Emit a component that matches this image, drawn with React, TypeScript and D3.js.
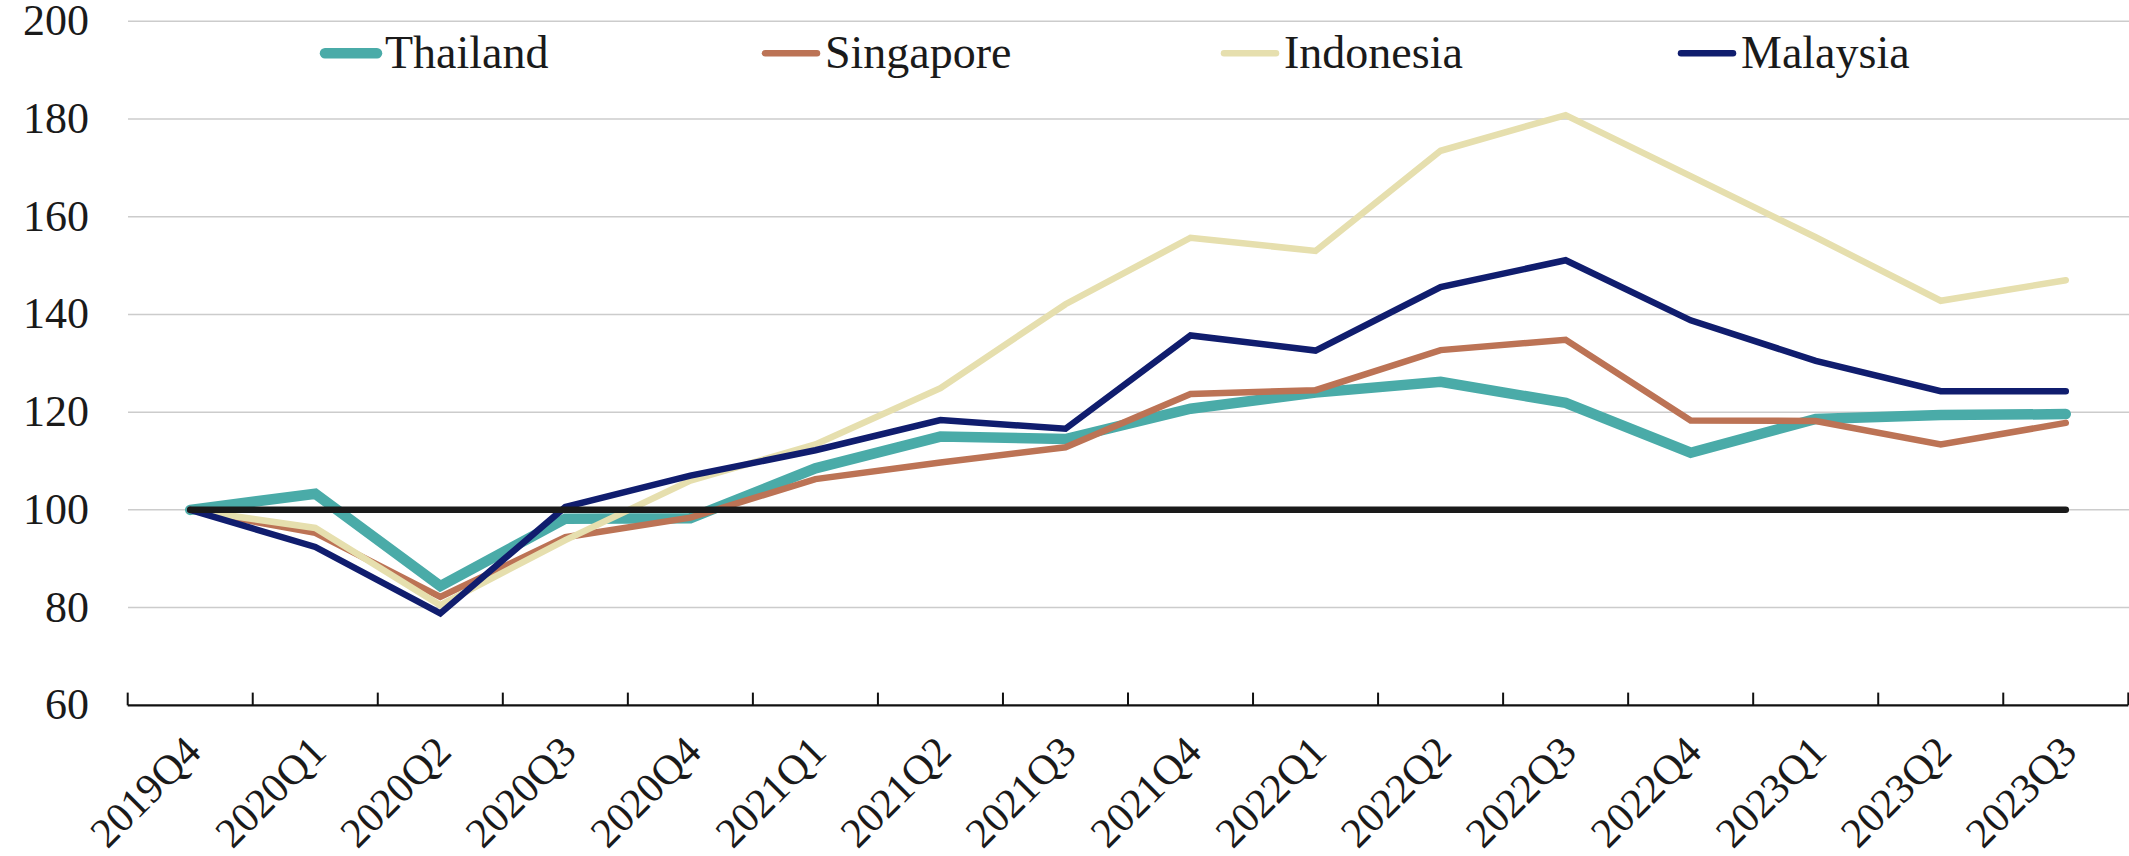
import React from "react";
import * as d3 from "d3";

// quarters on the x axis
const quarters = [
  "2019Q4", "2020Q1", "2020Q2", "2020Q3", "2020Q4", "2021Q1", "2021Q2", "2021Q3",
  "2021Q4", "2022Q1", "2022Q2", "2022Q3", "2022Q4", "2023Q1", "2023Q2", "2023Q3",
];

// index values, 2019Q4 = 100
const thailand = [100, 103.3, 84.4, 98.2, 98.3, 108.5, 115, 114.5, 120.7, 124, 126.2, 121.9, 111.7, 118.6, 119.4, 119.6];
const singapore = [100, 95.3, 82.2, 94.4, 98.4, 106.3, 109.7, 112.8, 123.7, 124.5, 132.7, 134.8, 118.3, 118.2, 113.4, 117.8];
const indonesia = [100, 96.3, 80.5, 93.8, 106, 113.4, 124.9, 142.1, 155.7, 153, 173.5, 180.8, 168.3, 155.8, 142.8, 147.0];
const malaysia = [100, 92.4, 78.8, 100.6, 107, 112.2, 118.4, 116.6, 135.7, 132.6, 145.6, 151.1, 138.8, 130.5, 124.3, 124.3];
const baseline = quarters.map(() => 100);

const seriesNames = ["Thailand", "Singapore", "Indonesia", "Malaysia"];
const seriesValues = [thailand, singapore, indonesia, malaysia];
const seriesColors = ["#4aaba8", "#bc7355", "#e6dfae", "#101d6e"];
const seriesWidths = [10.5, 6.5, 6.5, 6.5];

const yTicks = [60, 80, 100, 120, 140, 160, 180, 200];

const W = 2129;
const H = 856;
const FONT = "'Liberation Serif', 'Times New Roman', serif";
const TEXT = "#1a1a1a";

export default function App() {
  const x = d3.scaleBand<string>().domain(quarters).range([127.7, 2128.3]).padding(0);
  const y = d3.scaleLinear().domain([60, 200]).range([705.3, 21.3]);
  const cx = (q: string) => (x(q) as number) + x.bandwidth() / 2;

  const line = d3
    .line<number>()
    .x((_, i) => cx(quarters[i]))
    .y((d) => y(d));

  // legend slots across the top
  const legendX = [325, 765, 1224, 1681];
  const legendY = 53.3;

  const tickEdges = quarters.map((q) => x(q) as number).concat([x.range()[1]]);

  return (
    <svg
      width={W}
      height={H}
      style={{ position: "absolute", left: 0, top: 0, display: "block", background: "#fff" }}
      fontFamily={FONT}
    >
      {/* horizontal grid */}
      {yTicks
        .filter((t) => t > 60)
        .map((t) => (
          <line key={t} x1={128} x2={W} y1={y(t)} y2={y(t)} stroke="#cccccc" strokeWidth={1.5} />
        ))}

      {/* y labels */}
      {yTicks.map((t) => (
        <text key={t} x={89} y={y(t) + 14} textAnchor="end" fontSize={44} fill={TEXT}>
          {t}
        </text>
      ))}

      {/* x axis */}
      <line x1={x.range()[0]} x2={x.range()[1]} y1={y(60)} y2={y(60)} stroke="#111" strokeWidth={2.2} />
      {tickEdges.map((e, i) => (
        <line key={i} x1={e} x2={e} y1={y(60)} y2={y(60) - 12.7} stroke="#111" strokeWidth={2} />
      ))}
      {quarters.map((q) => (
        <text
          key={q}
          transform={`translate(${cx(q) + 13},${754}) rotate(-45)`}
          textAnchor="end"
          fontSize={42}
          fill={TEXT}
        >
          {q}
        </text>
      ))}

      {/* series */}
      {seriesValues.map((vals, i) => (
        <path
          key={seriesNames[i]}
          d={line(vals) as string}
          fill="none"
          stroke={seriesColors[i]}
          strokeWidth={seriesWidths[i]}
          strokeLinecap="round"
          strokeLinejoin="miter"
        />
      ))}

      {/* 100 reference line */}
      <path d={line(baseline) as string} fill="none" stroke="#1a1a1a" strokeWidth={6.5} strokeLinecap="round" />

      {/* legend */}
      {seriesNames.map((name, i) => (
        <g key={name} transform={`translate(${legendX[i]},${legendY})`}>
          <line x1={0} x2={52} y1={0} y2={0} stroke={seriesColors[i]} strokeWidth={seriesWidths[i]} strokeLinecap="round" />
          <text x={60} y={15} fontSize={46} fill={TEXT}>
            {name}
          </text>
        </g>
      ))}
    </svg>
  );
}
